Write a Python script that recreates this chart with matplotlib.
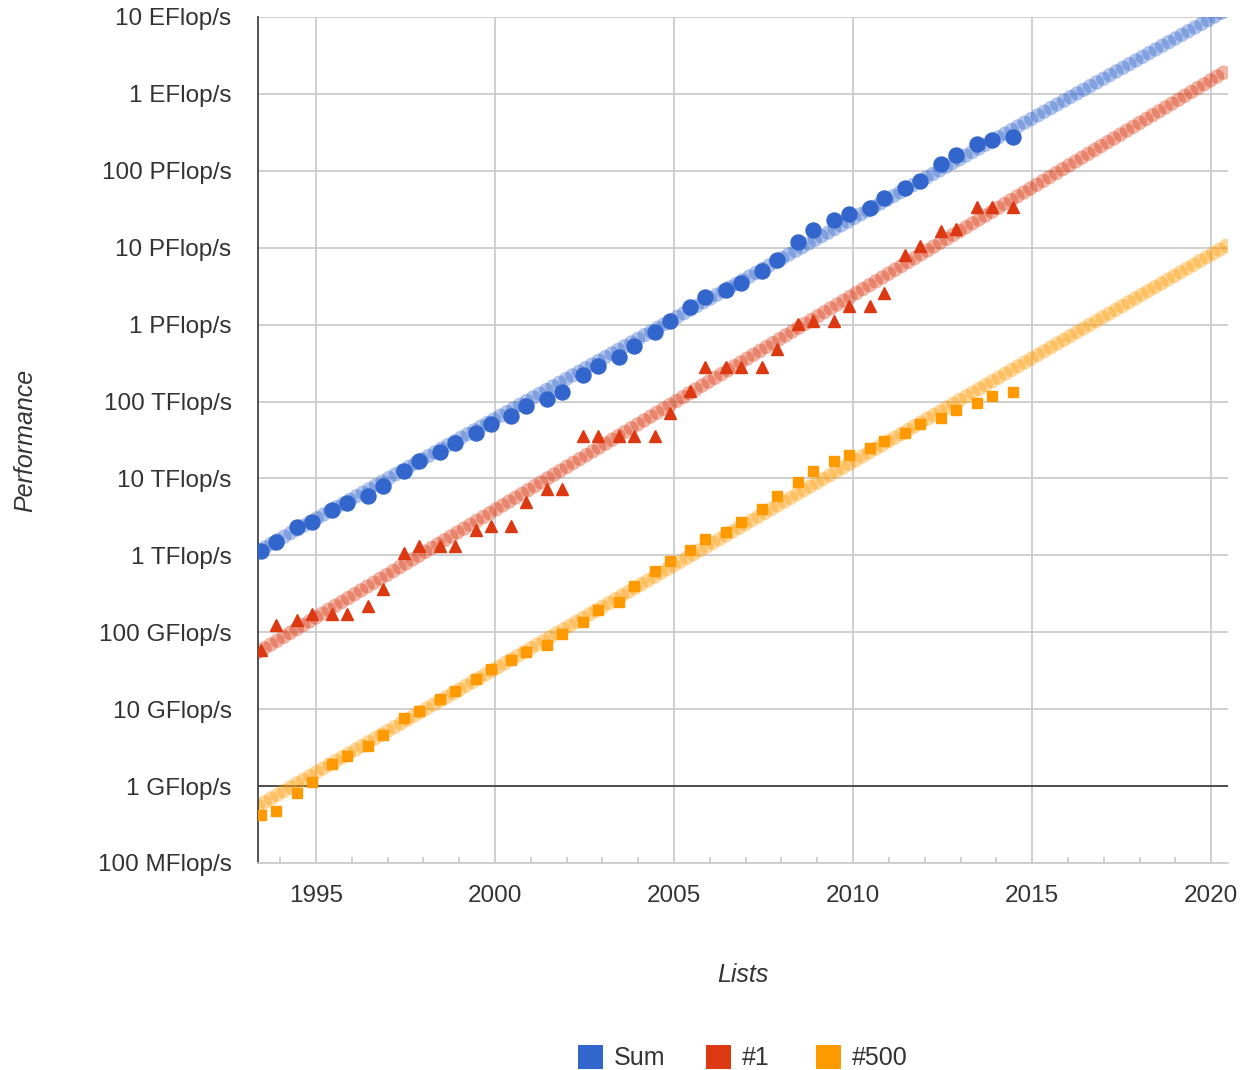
import numpy as np
import matplotlib
matplotlib.use("Agg")
import matplotlib.pyplot as plt
from matplotlib.patches import Rectangle
from matplotlib.ticker import FixedLocator, NullFormatter

# ---------------- data (GFlop/s) ----------------
list_dates = ["1993.06", "1993.11", "1994.06", "1994.11", "1995.06", "1995.11",
              "1996.06", "1996.11", "1997.06", "1997.11", "1998.06", "1998.11",
              "1999.06", "1999.11", "2000.06", "2000.11", "2001.06", "2001.11",
              "2002.06", "2002.11", "2003.06", "2003.11", "2004.06", "2004.11",
              "2005.06", "2005.11", "2006.06", "2006.11", "2007.06", "2007.11",
              "2008.06", "2008.11", "2009.06", "2009.11", "2010.06", "2010.11",
              "2011.06", "2011.11", "2012.06", "2012.11", "2013.06", "2013.11",
              "2014.06"]

perf_sum = [1128.6, 1493.4, 2317.5, 2732.0, 3927.0, 4784.0, 5942.0, 7997.0,
            12646.0, 16950.0, 21985.0, 28950.0, 38432.0, 50870.0, 64311.0, 88043.0,
            108350.0, 134330.0, 222460.0, 293000.0, 374000.0, 528000.0, 813000.0,
            1127000.0, 1690000.0, 2300000.0, 2790000.0, 3530000.0, 4920000.0,
            6970000.0, 11700000.0, 16950000.0, 22600000.0, 27600000.0, 32400000.0,
            43700000.0, 58900000.0, 74200000.0, 123000000.0, 162000000.0,
            223000000.0, 250000000.0, 274000000.0]

perf_top1 = [59.7, 124.5, 143.4, 170.4, 170.4, 170.4, 220.4, 368.2, 1068.0,
             1338.0, 1338.0, 1338.0, 2121.0, 2379.0, 2379.0, 4938.0, 7226.0,
             7226.0, 35860.0, 35860.0, 35860.0, 35860.0, 35860.0, 70720.0,
             136800.0, 280600.0, 280600.0, 280600.0, 280600.0, 478200.0,
             1026000.0, 1105000.0, 1105000.0, 1759000.0, 1759000.0, 2566000.0,
             8162000.0, 10510000.0, 16320000.0, 17590000.0, 33860000.0,
             33860000.0, 33860000.0]

perf_top500 = [0.422, 0.472, 0.815, 1.114, 1.96, 2.49, 3.37, 4.62, 7.67, 9.51,
               13.39, 17.1, 24.7, 33.1, 43.8, 55.1, 67.8, 94.3, 134.3, 195.8,
               245.1, 403.4, 624.0, 851.0, 1166.0, 1646.0, 2026.0, 2737.0,
               4005.0, 5929.0, 9000.0, 12640.0, 17090.0, 20050.0, 24670.0,
               31120.0, 39090.0, 50940.0, 60820.0, 76500.0, 96620.0, 117800.0,
               133700.0]

# trend lines (read at the left and right edge of the plot)
trend_years = [1993.38, 2020.47]
trend_sum = [1130.0, 1.27e10]
trend_top1 = [55.0, 2.05e9]
trend_top500 = [0.55, 1.09e7]

series_labels = ["Sum", "#1", "#500"]
series_colors = ["#3366cc", "#dc3912", "#ff9900"]

y_ticks = [1e-1, 1e0, 1e1, 1e2, 1e3, 1e4, 1e5, 1e6, 1e7, 1e8, 1e9, 1e10]
y_tick_labels = ["100 MFlop/s", "1 GFlop/s", "10 GFlop/s", "100 GFlop/s",
                 "1 TFlop/s", "10 TFlop/s", "100 TFlop/s", "1 PFlop/s",
                 "10 PFlop/s", "100 PFlop/s", "1 EFlop/s", "10 EFlop/s"]
x_ticks = [1995, 2000, 2005, 2010, 2015, 2020]
x_tick_labels = ["1995", "2000", "2005", "2010", "2015", "2020"]

# ---------------- figure ----------------
plt.rcParams["font.family"] = ["Liberation Sans", "DejaVu Sans"]
plt.rcParams["lines.scale_dashes"] = False

W, H = 1240, 1070
fig = plt.figure(figsize=(W / 100, H / 100), dpi=100)
L, R, T, B = 258, 1228, 17, 863
ax = fig.add_axes([L / W, 1 - B / H, (R - L) / W, (B - T) / H])

def to_year(s):
    y, m = s.split(".")
    return int(y) + (int(m) - 0.5) / 12.0

xs = np.array([to_year(s) for s in list_dates])

ax.set_yscale("log")
ax.set_xlim(1993.38, 2020.47)
ax.set_ylim(1e-1, 1e10)

grid_c = "#cccccc"
text_c = "#333333"

# grid
for yv in y_ticks:
    ax.axhline(yv, color=grid_c, lw=1.3, zorder=0)
for xv in x_ticks:
    ax.axvline(xv, color=grid_c, lw=1.3, zorder=0)
ax.axhline(1.0, color="#444444", lw=1.3, zorder=1)

# trend lines as overlapping translucent beads
trends = [trend_sum, trend_top1, trend_top500]
bead_d = 10.5  # pt
step = 5.4     # pt
for tr, c in zip(trends, series_colors):
    for off in (0.0, step):
        ax.plot(trend_years, tr, color=c, alpha=0.38, lw=bead_d,
                linestyle=(off, (0.01, 2 * step)), dash_capstyle="round",
                solid_capstyle="round", zorder=2)

# data markers
ax.plot(xs, perf_sum, linestyle="none", marker="o", ms=10.8,
        color=series_colors[0], mec=series_colors[0], zorder=3)
ax.plot(xs, perf_top1, linestyle="none", marker="^", ms=9.2,
        color=series_colors[1], mec=series_colors[1], zorder=3)
ax.plot(xs, perf_top500, linestyle="none", marker="s", ms=7.6,
        color=series_colors[2], mec=series_colors[2], zorder=3)

# axes styling
for s in ["top", "right"]:
    ax.spines[s].set_visible(False)
ax.spines["left"].set_color("#444444")
ax.spines["left"].set_linewidth(1.3)
ax.spines["bottom"].set_color(grid_c)
ax.spines["bottom"].set_linewidth(1.3)

ax.yaxis.set_major_locator(FixedLocator(y_ticks))
ax.set_yticklabels(y_tick_labels)
ax.yaxis.set_minor_locator(FixedLocator([]))
ax.yaxis.set_minor_formatter(NullFormatter())
ax.tick_params(axis="y", which="both", length=0, pad=19, labelsize=17.5,
               labelcolor=text_c)

ax.set_xticks(x_ticks)
ax.set_xticklabels(x_tick_labels)
ax.xaxis.set_minor_locator(FixedLocator([y for y in range(1994, 2021) if y % 5 != 0]))
ax.tick_params(axis="x", which="major", length=0, pad=16, labelsize=17.5,
               labelcolor=text_c)
ax.tick_params(axis="x", which="minor", direction="in", length=4.5, width=1.3,
               color=grid_c)

fig.text(25 / W, 1 - 440 / H, "Performance", rotation=90, style="italic",
         fontsize=18, color=text_c, ha="center", va="center")
fig.text(743 / W, 1 - 975 / H, "Lists", style="italic",
         fontsize=18, color=text_c, ha="center", va="center")

# legend
leg_x = [578, 706, 816]
for lx, lab, c in zip(leg_x, series_labels, series_colors):
    fig.add_artist(Rectangle((lx / W, 1 - 1069 / H), 25 / W, 24 / H,
                             transform=fig.transFigure, facecolor=c,
                             edgecolor="none"))
    fig.text((lx + 36) / W, 1 - 1058 / H, lab, fontsize=18, color=text_c,
             ha="left", va="center")

fig.savefig("out.png", dpi=100)
